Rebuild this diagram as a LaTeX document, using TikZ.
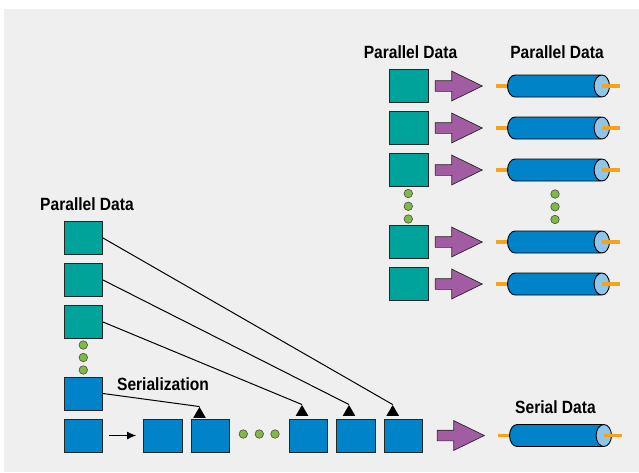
\documentclass[tikz,border=0pt]{standalone}
\usepackage{fontspec}
\setmainfont{Liberation Sans}
\newfontfamily\lblfont{Liberation Sans Bold}[FakeStretch=0.88]
\usetikzlibrary{shapes.geometric,shapes.arrows,arrows.meta,positioning}
\definecolor{tealbox}{HTML}{00A39A}
\definecolor{bluebox}{HTML}{0083C9}
\definecolor{purplearrow}{HTML}{A25DA2}
\definecolor{capblue}{HTML}{8EC5EA}
\definecolor{pinorange}{HTML}{F7A21B}
\definecolor{dotgreen}{HTML}{7DBB42}
\definecolor{backgray}{HTML}{EEEFEE}

\begin{document}
\begin{tikzpicture}[x=1pt, y=-1pt, node distance={6.5pt},
	sq/.style = {draw=black!85, line width=0.9pt, minimum width=38.5pt, minimum height=33pt, inner sep=0pt},
	tq/.style = {sq, fill=tealbox},
	bq/.style = {sq, fill=bluebox},
	blk/.style = {single arrow, draw=black!85, line width=0.7pt, fill=purplearrow, minimum width=29pt, minimum height=47pt, single arrow head extend=9.5pt, single arrow tip angle=52, inner xsep=0pt, inner ysep=5pt},
	cyl/.style = {cylinder, draw=black, line width=0.9pt, cylinder uses custom fill, cylinder body fill=bluebox, cylinder end fill=capblue, aspect=0.7, minimum width=22pt, minimum height=102pt, inner xsep=0pt, inner ysep=11pt},
	pin/.style = {draw=pinorange, line width=3.5pt},
	dot/.style = {circle, draw=black!70, line width=0.6pt, fill=dotgreen, minimum size=8.5pt, inner sep=0pt},
	tri/.style = {regular polygon, regular polygon sides=3, fill=black, minimum size=14.5pt, inner sep=0pt},
	lbl/.style = {font=\lblfont\fontsize{17.7}{18}\selectfont, inner sep=0pt, anchor=base}]
	\useasboundingbox (0,0) rectangle (639,472);
	\fill[backgray] (4,9) rectangle (639,472);

	\node[lbl] (h1) at (410.5,58) {Parallel Data};
	\node[lbl] (h2) at (557,58) {Parallel Data};
	\node[lbl] (h3) at (87,210) {Parallel Data};
	\node[lbl] (h4) at (163,390.7) {Serialization};
	\node[lbl] (h5) at (555.5,413) {Serial Data};

	\node[tq] (s1) at (408.7,86) {};
	\node[tq] (s2) at (408.7,128) {};
	\node[tq] (s3) at (408.7,170) {};
	\node[tq] (s4) at (408.7,242) {};
	\node[tq] (s5) at (408.7,284) {};
	\node[blk] (a1) [right = of s1] {};
	\node[blk] (a2) [right = of s2] {};
	\node[blk] (a3) [right = of s3] {};
	\node[blk] (a4) [right = of s4] {};
	\node[blk] (a5) [right = of s5] {};
	\node[cyl] (c1) [right = 24pt of a1] {};
	\node[cyl] (c2) [right = 24pt of a2] {};
	\node[cyl] (c3) [right = 24pt of a3] {};
	\node[cyl] (c4) [right = 24pt of a4] {};
	\node[cyl] (c5) [right = 24pt of a5] {};
	\node[dot] (d1) at (408.3,193.5) {};
	\node[dot] (d2) at (408.3,206.3) {};
	\node[dot] (d3) at (408.3,219) {};
	\node[dot] (d4) at (555,194) {};
	\node[dot] (d5) at (555,206.8) {};
	\node[dot] (d6) at (555,219.5) {};

	\node[tq] (l1) at (83.3,238) {};
	\node[tq] (l2) at (83.3,280) {};
	\node[tq] (l3) at (83.3,322) {};
	\node[dot] (d7) at (83.3,345) {};
	\node[dot] (d8) at (83.3,357.5) {};
	\node[dot] (d9) at (83.3,370) {};
	\node[bq] (l4) at (83.3,393.5) {};

	\node[bq] (b1) at (83.3,435.5) {};
	\node[bq] (b2) at (162.8,435.5) {};
	\node[bq] (b3) [right = 8pt of b2] {};
	\node[dot] (d10) at (243.3,434) {};
	\node[dot] (d11) at (259.3,434) {};
	\node[dot] (d12) at (275,434) {};
	\node[bq] (b4) at (308.4,435.5) {};
	\node[bq] (b5) [right = 8pt of b4] {};
	\node[bq] (b6) [right = 8pt of b5] {};
	\node[blk] (a6) [right = 14pt of b6] {};
	\node[cyl] (c6) [right = 24pt of a6] {};

	\node[tri] (t1) at (392.7,412.2) {};
	\node[tri] (t2) at (349,412.2) {};
	\node[tri] (t3) at (302,412.2) {};
	\node[tri] (t4) at (199.5,414.2) {};

	\draw[line width=1pt] (l1.east) -- (t1.north);
	\draw[line width=1pt] (l2.east) -- (t2.north);
	\draw[line width=1pt] (l3.east) -- (t3.north);
	\draw[line width=1pt] (l4.east) -- (t4.north);
	\draw[line width=1.2pt, -{Latex[length=9pt,width=8pt]}] ([xshift=6pt]b1.east) -- ([xshift=-7pt]b2.west);

	\draw[pin] (c1.west) -- ++(-11,0);
	\draw[pin] (c2.west) -- ++(-11,0);
	\draw[pin] (c3.west) -- ++(-11,0);
	\draw[pin] (c4.west) -- ++(-11,0);
	\draw[pin] (c5.west) -- ++(-11,0);
	\draw[pin] (c6.west) -- ++(-11,0);
	\draw[pin] ([xshift=-8pt]c1.east) -- ++(18,0);
	\draw[pin] ([xshift=-8pt]c2.east) -- ++(18,0);
	\draw[pin] ([xshift=-8pt]c3.east) -- ++(18,0);
	\draw[pin] ([xshift=-8pt]c4.east) -- ++(18,0);
	\draw[pin] ([xshift=-8pt]c5.east) -- ++(18,0);
	\draw[pin] ([xshift=-8pt]c6.east) -- ++(18,0);
\end{tikzpicture}
\end{document}
